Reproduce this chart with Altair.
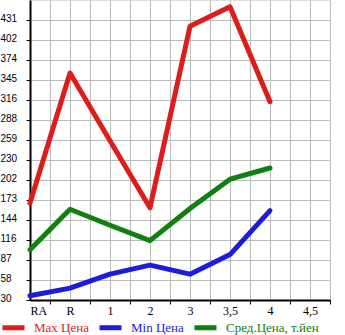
import altair as alt
import pandas as pd

categories = ["RA", "R", "1", "2", "3", "3,5", "4", "4,5"]
max_price = [169, 355, 258, 162, 422, 450, 314]
min_price = [36, 47, 67, 80, 67, 95, 158]
avg_price = [102, 160, 137, 115, 161, 203, 219]
y_labels = ["30", "58", "87", "116", "144", "173", "202", "230", "259",
            "288", "316", "345", "374", "402", "431"]
series_names = ["Max Цена", "Min Цена", "Сред.Цена, т.йен"]
colors = ["#dd1c1c", "#1c1cdd", "#108010"]

rows = []
for name, vals in zip(series_names, [max_price, min_price, avg_price]):
    for i, v in enumerate(vals):
        rows.append({"series": name, "idx": i, "cat": categories[i], "value": v})
df = pd.DataFrame(rows)

step = (431 - 30) / 14
y_ticks = [30 + i * step for i in range(15)]
y_top = 30 + 15 * step
x_vals = [i * 0.5 for i in range(16)]

cat_js = "[" + ",".join("'%s'" % c for c in categories) + "]"
ylab_js = "[" + ",".join("'%s'" % c for c in y_labels) + "]"
color_expr = ("datum.value == '%s' ? '%s' : datum.value == '%s' ? '%s' : '%s'"
              % (series_names[0], colors[0], series_names[1], colors[1], colors[2]))

serif = "Liberation Serif"
sans = "Liberation Sans"

chart = alt.Chart(df).mark_line(strokeWidth=5, strokeCap="round", strokeJoin="round").encode(
    x=alt.X("idx:Q",
            scale=alt.Scale(domain=[0, 7.5], nice=False, zero=False),
            axis=alt.Axis(values=x_vals, title=None,
                          labelExpr="datum.value % 1 == 0 ? " + cat_js + "[datum.value] : ''",
                          tickOpacity={"condition": {"test": "datum.value % 1 == 0", "value": 0}, "value": 1},
                          tickSize=4, tickColor="black", tickWidth=1,
                          domainColor="black", domainWidth=2,
                          gridColor="#bbbbbb", gridWidth=1,
                          labelFont=serif, labelFontSize=12, labelColor="black",
                          labelPadding=1)),
    y=alt.Y("value:Q",
            scale=alt.Scale(domain=[30, y_top], nice=False, zero=False),
            axis=alt.Axis(values=y_ticks, title=None,
                          labelExpr=ylab_js + "[round((datum.value - 30) / " + repr(step) + ")]",
                          tickSize=4, tickColor="black", tickWidth=1,
                          domainColor="black", domainWidth=2,
                          gridColor="#bbbbbb", gridWidth=1,
                          labelFont=sans, labelFontSize=10, labelColor="black",
                          labelAlign="left", labelPadding=26, labelOffset=-2)),
    color=alt.Color("series:N",
                    scale=alt.Scale(domain=series_names, range=colors),
                    legend=alt.Legend(title=None, orient="none", direction="horizontal",
                                      legendX=-30, legendY=314, padding=0,
                                      symbolType="stroke", symbolStrokeWidth=5,
                                      symbolSize=484, labelFont=serif, labelFontSize=13,
                                      labelColor={"expr": color_expr},
                                      labelOffset=7, columnPadding=0)),
    detail="series:N",
).properties(
    width=300, height=300,
    autosize=alt.AutoSizeParams(type="none"),
    padding={"left": 30, "top": 0, "right": 15, "bottom": 35},
).configure_view(
    fill="#f6f6f6", stroke=None
).configure(background="white")

chart.save("out.html", embed_options={"renderer": "svg", "actions": False})
